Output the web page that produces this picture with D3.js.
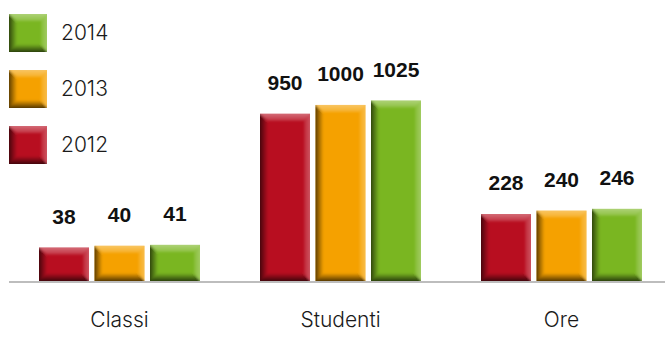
<!DOCTYPE html>
<html>
<head>
<meta charset="utf-8">
<script src="https://cdn.jsdelivr.net/npm/d3@7"></script>
<style>
  html, body { margin: 0; padding: 0; background: #fff; }
  svg { display: block; }
  text { font-family: "Liberation Sans", Arial, Helvetica, sans-serif; }
  .light { font-family: Inter, "Liberation Sans", Arial, sans-serif; font-weight: 300; }
</style>
</head>
<body>
<svg id="chart" width="665" height="338"></svg>
<script>
// Categories and yearly series
const categories = ["Classi", "Studenti", "Ore"];
const years = ["2012", "2013", "2014"];
const values2012 = [38, 950, 228];
const values2013 = [40, 1000, 240];
const values2014 = [41, 1025, 246];
// Each category is drawn against its own value axis (top of scale)
const categoryScaleMax = [227, 1136, 682];
const colors = ["#b80e20", "#f5a100", "#7ab621"];

const series = [values2012, values2013, values2014];

const W = 665, H = 338;
const baseY = 281, plotH = 200;

const svg = d3.select("#chart");
const defs = svg.append("defs");

// Bevel shading gradients (shared by all bars)
function grad(id, x1, y1, x2, y2, stops) {
  const g = defs.append("linearGradient").attr("id", id)
    .attr("x1", x1).attr("y1", y1).attr("x2", x2).attr("y2", y2);
  stops.forEach(s => g.append("stop").attr("offset", s[0])
    .attr("stop-color", s[1]).attr("stop-opacity", s[2]));
}
grad("bevLeft", 0, 0, 1, 0, [[0, "#000", 0.75], [1, "#000", 0.0]]);
grad("bevBottom", 0, 1, 0, 0, [[0, "#000", 0.8], [1, "#000", 0.0]]);
grad("bevTop", 0, 0, 0, 1, [[0, "#fff", 0.45], [1, "#fff", 0.15]]);
grad("bevRight", 1, 0, 0, 0, [[0, "#fff", 0.35], [1, "#fff", 0.1]]);

// soft edge for the bevel shading
defs.append("filter").attr("id", "soft")
  .attr("x", "-20%").attr("y", "-20%").attr("width", "140%").attr("height", "140%")
  .append("feGaussianBlur").attr("stdDeviation", 1.2);

let clipId = 0;
function bevelBox(g, x, y, w, h, color) {
  const l = 8, r = 6, t = 7, b = 8;
  const tt = Math.min(t, h / 2), bb = Math.min(b, h / 2);
  const id = "clip" + (clipId++);
  defs.append("clipPath").attr("id", id)
    .append("rect").attr("x", x).attr("y", y).attr("width", w).attr("height", h);
  g.append("rect").attr("x", x).attr("y", y).attr("width", w).attr("height", h).attr("fill", color);
  const shade = g.append("g").attr("clip-path", `url(#${id})`)
    .append("g").attr("filter", "url(#soft)");
  const poly = (pts, fill) => shade.append("polygon")
    .attr("points", pts.map(p => p.join(",")).join(" ")).attr("fill", fill);
  poly([[x - 2, y - 2], [x + w + 2, y - 2], [x + w - r, y + tt], [x + l, y + tt]], "url(#bevTop)");
  poly([[x + w + 2, y - 2], [x + w + 2, y + h + 2], [x + w - r, y + h - bb], [x + w - r, y + tt]], "url(#bevRight)");
  poly([[x - 2, y - 2], [x + l, y + tt], [x + l, y + h - bb], [x - 2, y + h + 2]], "url(#bevLeft)");
  poly([[x - 2, y + h + 2], [x + l, y + h - bb], [x + w - r, y + h - bb], [x + w + 2, y + h + 2]], "url(#bevBottom)");
}

// Group and series band scales
const x0 = d3.scaleBand().domain(categories).range([9, 672])
  .paddingInner(0.2715).paddingOuter(0.2715 / 2);
const x1 = d3.scaleBand().domain(years).range([0, x0.bandwidth()])
  .paddingInner(0.099).paddingOuter(0);

const yScales = categories.map((c, i) =>
  d3.scaleLinear().domain([0, categoryScaleMax[i]]).range([baseY, baseY - plotH]));

// Baseline
svg.append("line").attr("x1", 9).attr("x2", W).attr("y1", 282).attr("y2", 282)
  .attr("stroke", "#bdbdbd").attr("stroke-width", 2);

// Bars and value labels
categories.forEach((cat, ci) => {
  const y = yScales[ci];
  years.forEach((yr, si) => {
    const v = series[si][ci];
    const bx = x0(cat) + x1(yr);
    const by = y(v);
    const g = svg.append("g");
    bevelBox(g, bx, by, x1.bandwidth(), baseY - by, colors[si]);
    svg.append("text")
      .attr("x", bx + x1.bandwidth() / 2).attr("y", by - 24)
      .attr("text-anchor", "middle").attr("font-size", 21).attr("font-weight", "bold")
      .attr("fill", "#111").text(v);
  });
  // Category label
  svg.append("text").attr("class", "light")
    .attr("x", x0(cat) + x0.bandwidth() / 2).attr("y", 327)
    .attr("text-anchor", "middle").attr("font-size", 21)
    .attr("fill", "#1a1a1a").text(cat);
});

// Legend (latest year first)
const legendYears = years.slice().reverse();
legendYears.forEach((yr, i) => {
  const si = years.indexOf(yr);
  const ly = 14 + i * 56;
  const g = svg.append("g");
  bevelBox(g, 9, ly, 38, 38, colors[si]);
  svg.append("text").attr("class", "light").attr("x", 61).attr("y", ly + 26)
    .attr("font-size", 21).attr("fill", "#1a1a1a").text(yr);
});
</script>
</body>
</html>
